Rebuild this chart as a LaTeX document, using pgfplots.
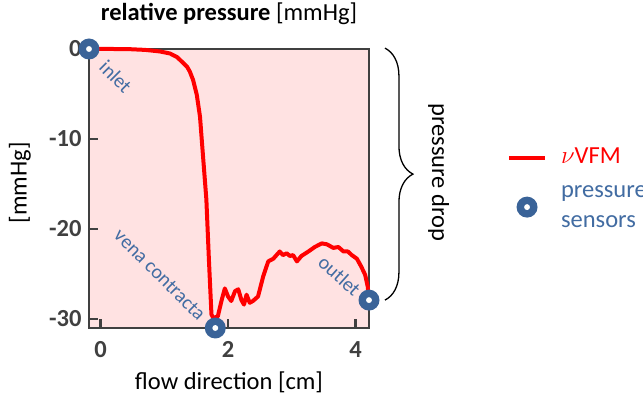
\documentclass[border=0pt]{standalone}
\usepackage{fontspec}
\setmainfont{Carlito}
\usepackage{pgfplots}
\pgfplotsset{compat=1.18}
\usetikzlibrary{decorations.pathreplacing}
\definecolor{sensorblue}{RGB}{58,99,152}
\definecolor{textblue}{RGB}{66,108,162}
\definecolor{axgray}{RGB}{64,64,64}
\definecolor{bgpink}{RGB}{255,226,226}
\newcommand{\mainsize}{\fontsize{24.5}{29.4}\selectfont}
\newcommand{\annsize}{\fontsize{20}{24}\selectfont}
\pgfdeclareplotmark{sensor}{%
  \pgfpathcircle{\pgfpointorigin}{\pgfplotmarksize}%
  \pgfsetfillcolor{sensorblue}\pgfusepathqfill
  \pgfpathcircle{\pgfpointorigin}{0.28\pgfplotmarksize}%
  \pgfsetfillcolor{white}\pgfusepathqfill}
\pgfplotsset{
  linelegend/.style={legend image code/.code={\draw[##1] (0pt,-2.1pt) -- (36pt,-2.1pt);}},
  marklegend/.style={legend image code/.code={\draw[##1] plot coordinates {(18pt,0pt)};}},
}
\begin{document}
\begin{tikzpicture}
\useasboundingbox (-89pt,-70pt) rectangle (554pt,328pt);
\begin{axis}[
  at={(0pt,0pt)}, anchor=south west,
  scale only axis, width=280pt, height=279pt,
  xmin=-0.18, xmax=4.21, ymin=-31, ymax=0,
  clip=false,
  axis background/.style={fill=bgpink},
  axis line style={axgray, line width=2.5pt},
  tick style={axgray, line width=2.5pt},
  tick align=inside, tick pos=left, major tick length=9pt,
  xtick={0,2,4}, xticklabels={0,2,4},
  ytick={-30,-20,-10,0}, yticklabels={-30,-20,-10,0},
  ticklabel style={font=\mainsize\bfseries, text=axgray},
  xticklabel style={yshift=-10pt},
  yticklabel style={xshift=-4pt},
  title={\textbf{relative pressure} [mmHg]},
  title style={font=\mainsize, at={(axis description cs:0.5,1.080)}, anchor=base},
  xlabel={flow direction [cm]},
  xlabel style={font=\mainsize, at={(axis description cs:0.5,-0.222)}, anchor=base},
  ylabel={[mmHg]},
  ylabel style={font=\mainsize, at={(axis description cs:-0.223,0.52)}, anchor=base, rotate=0},
  legend style={at={(axis description cs:1.493,0.647)}, anchor=north west,
    draw=none, fill=none, inner sep=0pt, outer sep=0pt,
    nodes={inner sep=0pt, font=\mainsize, align=left},
    column sep=14pt, row sep=21pt},
  legend cell align=left,
]
\addplot[red, line width=4pt, line join=round, linelegend]
coordinates {
(-0.18,0) (0.2,0) (0.46,-0.02) (0.7,-0.1) (0.93,-0.27) (1.09,-0.5) (1.2,-0.9)
(1.29,-1.5) (1.36,-2.0) (1.40,-2.5) (1.45,-3.4) (1.51,-5.1) (1.56,-7.5)
(1.60,-11.2) (1.66,-16.7) (1.70,-23.4) (1.74,-29.5) (1.77,-29.9) (1.84,-29.7)
(1.90,-27.9) (1.95,-26.6) (2.00,-27.5) (2.05,-28.0) (2.11,-26.9) (2.16,-26.7)
(2.21,-27.9) (2.25,-28.4) (2.29,-27.3) (2.34,-28.2) (2.39,-28.0) (2.47,-27.5)
(2.55,-25.3) (2.63,-23.6) (2.71,-23.3) (2.76,-22.9) (2.81,-22.5) (2.86,-22.9)
(2.92,-22.7) (2.97,-23.0) (3.02,-22.9) (3.08,-23.6) (3.15,-23.0) (3.26,-22.5)
(3.36,-22.0) (3.47,-21.6) (3.55,-21.7) (3.65,-22.1) (3.73,-22.0) (3.81,-22.5)
(3.88,-22.5) (3.94,-22.9) (4.02,-23.3) (4.09,-24.2) (4.15,-25.1) (4.19,-26.4)
(4.21,-27.9)};
\addlegendentry[text=red]{$\nu$VFM}
\addplot[only marks, mark=sensor, mark size=10.5pt, marklegend]
coordinates {(-0.18,0) (1.80,-31) (4.21,-27.9)};
\addlegendentry[text=textblue]{pressure\\sensors}
\node[font=\annsize, text=textblue, rotate=-45] at (axis cs:0.24,-3.1) {inlet};
\node[font=\annsize, text=textblue, rotate=-45] at (axis cs:0.93,-25.1) {vena contracta};
\node[font=\annsize, text=textblue, rotate=-42] at (axis cs:3.75,-25.2) {outlet};
\draw[black, line width=1.3pt, decorate, decoration={brace, amplitude=28pt}]
  (axis cs:4.46,0.1) -- (axis cs:4.46,-27.9);
\node[font=\mainsize, rotate=-90, anchor=base] at (axis cs:5.2,-13.7) {pressure drop};
\end{axis}
\end{tikzpicture}
\end{document}
